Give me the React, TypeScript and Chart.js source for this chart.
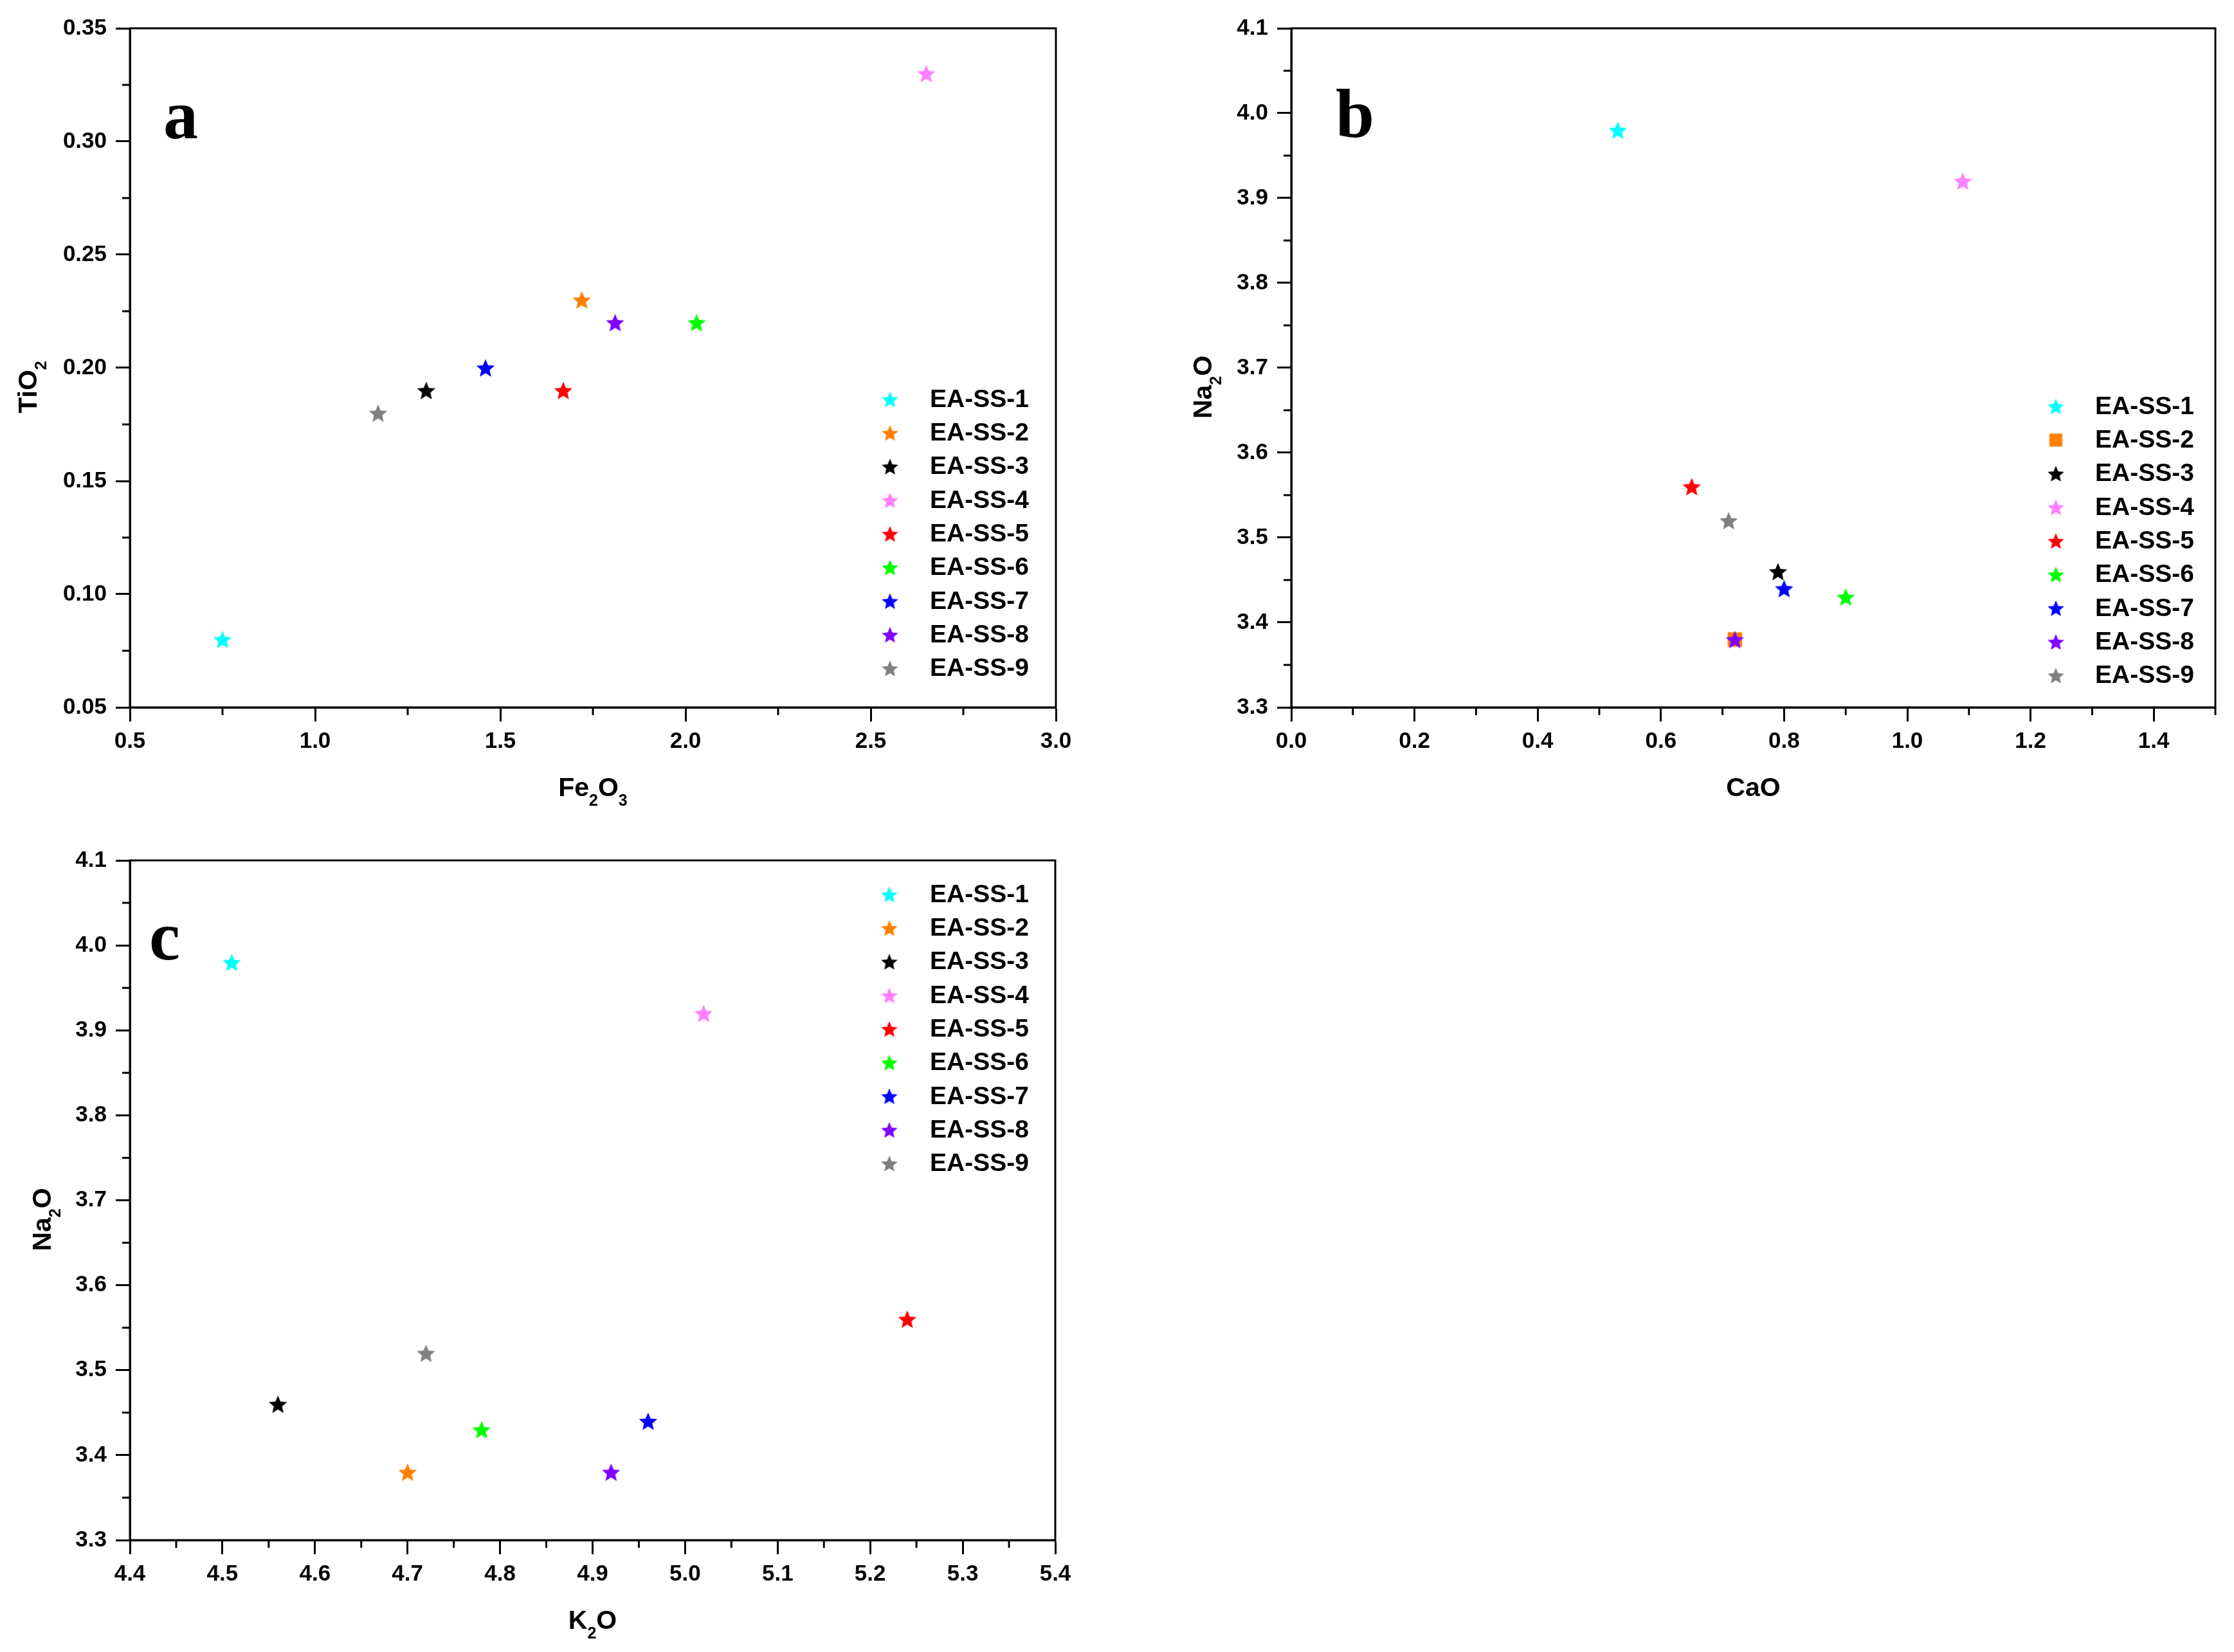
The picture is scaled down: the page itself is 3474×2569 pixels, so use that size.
import { useEffect, useRef } from "react"
import { Chart, registerables } from "chart.js"

Chart.register(...registerables)

// samples and their colours
const samples = ["EA-SS-1", "EA-SS-2", "EA-SS-3", "EA-SS-4", "EA-SS-5", "EA-SS-6", "EA-SS-7", "EA-SS-8", "EA-SS-9"]
const colors = ["#00FFFF", "#FF8000", "#000000", "#FF80FF", "#FF0000", "#00FF00", "#0000FF", "#8000FF", "#808080"]

// oxide contents (wt%)
const fe2o3 = [0.75, 1.72, 1.3, 2.65, 1.67, 2.03, 1.46, 1.81, 1.17]
const tio2 = [0.08, 0.23, 0.19, 0.33, 0.19, 0.22, 0.2, 0.22, 0.18]
const cao = [0.53, 0.72, 0.79, 1.09, 0.65, 0.9, 0.8, 0.72, 0.71]
const na2o = [3.98, 3.38, 3.46, 3.92, 3.56, 3.43, 3.44, 3.38, 3.52]
const k2o = [4.51, 4.7, 4.56, 5.02, 5.24, 4.78, 4.96, 4.92, 4.72]

// major tick values
const ticksFe2O3 = [0.5, 1.0, 1.5, 2.0, 2.5, 3.0]
const ticksTiO2 = [0.05, 0.1, 0.15, 0.2, 0.25, 0.3, 0.35]
const ticksCaO = [0.0, 0.2, 0.4, 0.6, 0.8, 1.0, 1.2, 1.4]
const ticksNa2O = [3.3, 3.4, 3.5, 3.6, 3.7, 3.8, 3.9, 4.0, 4.1]
const ticksK2O = [4.4, 4.5, 4.6, 4.7, 4.8, 4.9, 5.0, 5.1, 5.2, 5.3, 5.4]

type Seg = { t: string; sub?: boolean }

type Panel = {
  id: string
  letter: string
  xs: number[]
  ys: number[]
  xTicks: number[]
  yTicks: number[]
  xMax: number
  xDec: number
  yDec: number
  xTitle: Seg[]
  yTitle: Seg[]
  squareIdx: number
  box: { left: number; top: number; w: number; h: number }
  plot: { left: number; top: number; right: number; bottom: number }
  legend: { markX: number; textX: number; y0: number }
  letterPos: { x: number; y: number }
  yTitleX: number
}

const panels: Panel[] = [
  {
    id: "a",
    letter: "a",
    xs: fe2o3,
    ys: tio2,
    xTicks: ticksFe2O3,
    yTicks: ticksTiO2,
    xMax: 3.0,
    xDec: 1,
    yDec: 2,
    xTitle: [{ t: "Fe" }, { t: "2", sub: true }, { t: "O" }, { t: "3", sub: true }],
    yTitle: [{ t: "TiO" }, { t: "2", sub: true }],
    squareIdx: -1,
    box: { left: 0, top: 0, w: 1737, h: 1285 },
    plot: { left: 202, top: 44, right: 1642, bottom: 1100 },
    legend: { markX: 1384, textX: 1446, y0: 621 },
    letterPos: { x: 254, y: 215 },
    yTitleX: 57,
  },
  {
    id: "b",
    letter: "b",
    xs: cao,
    ys: na2o,
    xTicks: ticksCaO,
    yTicks: ticksNa2O,
    xMax: 1.5,
    xDec: 1,
    yDec: 1,
    xTitle: [{ t: "CaO" }],
    yTitle: [{ t: "Na" }, { t: "2", sub: true }, { t: "O" }],
    squareIdx: 1,
    box: { left: 1737, top: 0, w: 1737, h: 1285 },
    plot: { left: 271, top: 44, right: 1708, bottom: 1100 },
    legend: { markX: 1460, textX: 1521, y0: 632 },
    letterPos: { x: 340, y: 213 },
    yTitleX: 147,
  },
  {
    id: "c",
    letter: "c",
    xs: k2o,
    ys: na2o,
    xTicks: ticksK2O,
    yTicks: ticksNa2O,
    xMax: 5.4,
    xDec: 1,
    yDec: 1,
    xTitle: [{ t: "K" }, { t: "2", sub: true }, { t: "O" }],
    yTitle: [{ t: "Na" }, { t: "2", sub: true }, { t: "O" }],
    squareIdx: -1,
    box: { left: 0, top: 1285, w: 1737, h: 1284 },
    plot: { left: 202, top: 53, right: 1641, bottom: 1110 },
    legend: { markX: 1383, textX: 1446, y0: 106 },
    letterPos: { x: 232, y: 207 },
    yTitleX: 79,
  },
]

const SANS = "'Liberation Sans', Arial, sans-serif"

function makeMarker(color: string, shape: "star" | "square", r: number) {
  const size = Math.ceil(r * 2 + 2)
  const c = document.createElement("canvas")
  c.width = size
  c.height = size
  const ctx = c.getContext("2d")!
  ctx.fillStyle = color
  const cx = size / 2
  const cy = size / 2
  if (shape === "square") {
    ctx.fillRect(cx - r * 0.75, cy - r * 0.75, r * 1.5, r * 1.5)
  } else {
    ctx.beginPath()
    for (let k = 0; k < 10; k++) {
      const a = -Math.PI / 2 + (k * Math.PI) / 5
      const rr = k % 2 === 0 ? r : r * 0.45
      const px = cx + rr * Math.cos(a)
      const py = cy + r * 0.1 + rr * Math.sin(a)
      if (k === 0) ctx.moveTo(px, py)
      else ctx.lineTo(px, py)
    }
    ctx.closePath()
    ctx.fill()
  }
  return c
}

function drawRich(ctx: CanvasRenderingContext2D, segs: Seg[], cx: number, cy: number, rotate: boolean) {
  const main = `bold 41px ${SANS}`
  const sub = `bold 25px ${SANS}`
  ctx.save()
  ctx.translate(cx, cy)
  if (rotate) ctx.rotate(-Math.PI / 2)
  ctx.fillStyle = "#000"
  ctx.textBaseline = "alphabetic"
  ctx.textAlign = "left"
  const widths = segs.map((s) => {
    ctx.font = s.sub ? sub : main
    return ctx.measureText(s.t).width
  })
  let x = -widths.reduce((a, b) => a + b, 0) / 2
  segs.forEach((s, i) => {
    ctx.font = s.sub ? sub : main
    ctx.fillText(s.t, x, s.sub ? 15 : 0)
    x += widths[i]
  })
  ctx.restore()
}

function PanelChart({ panel }: { panel: Panel }) {
  const chartRef = useRef<HTMLCanvasElement>(null)
  const chartInstance = useRef<Chart | null>(null)

  useEffect(() => {
    if (!chartRef.current) return
    if (chartInstance.current) chartInstance.current.destroy()
    const ctx = chartRef.current.getContext("2d")
    if (!ctx) return

    const { box, plot } = panel
    const legendMarks = colors.map((col, i) =>
      makeMarker(col, i === panel.squareIdx ? "square" : "star", 13.5)
    )

    const frame = {
      id: "frame-" + panel.id,
      afterDraw(chart: any) {
        const c = chart.ctx as CanvasRenderingContext2D
        const area = chart.chartArea
        const sx = chart.scales.x
        const sy = chart.scales.y
        c.save()
        c.strokeStyle = "#000"
        c.lineWidth = 3
        c.strokeRect(area.left, area.top, area.right - area.left, area.bottom - area.top)

        // minor ticks half-way between the majors
        c.beginPath()
        const xStep = panel.xTicks[1] - panel.xTicks[0]
        for (let v = panel.xTicks[0] + xStep / 2; v <= panel.xMax + 1e-9; v += xStep) {
          const px = sx.getPixelForValue(v)
          c.moveTo(px, area.bottom)
          c.lineTo(px, area.bottom + 12)
        }
        const yStep = panel.yTicks[1] - panel.yTicks[0]
        const yMax = panel.yTicks[panel.yTicks.length - 1]
        for (let v = panel.yTicks[0] + yStep / 2; v <= yMax + 1e-9; v += yStep) {
          const py = sy.getPixelForValue(v)
          c.moveTo(area.left, py)
          c.lineTo(area.left - 12, py)
        }
        c.stroke()

        // axis titles
        drawRich(c, panel.xTitle, (area.left + area.right) / 2, area.bottom + 138, false)
        drawRich(c, panel.yTitle, panel.yTitleX, (area.top + area.bottom) / 2 + 30, true)

        // panel letter
        c.fillStyle = "#000"
        c.font = `bold 108px 'Liberation Serif', 'Times New Roman', serif`
        c.textAlign = "left"
        c.textBaseline = "alphabetic"
        c.fillText(panel.letter, panel.letterPos.x, panel.letterPos.y)

        // legend
        c.font = `bold 39px ${SANS}`
        c.textBaseline = "middle"
        samples.forEach((name, i) => {
          const y = panel.legend.y0 + i * 52.3
          const m = legendMarks[i]
          c.drawImage(m, panel.legend.markX - m.width / 2, y - m.height / 2)
          c.fillText(name, panel.legend.textX, y + 1)
        })
        c.restore()
      },
    }

    const tickFont = { family: SANS, weight: "bold" as const, size: 35 }

    chartInstance.current = new Chart(ctx, {
      type: "scatter",
      data: {
        datasets: samples.map((name, i) => ({
          label: name,
          data: [{ x: panel.xs[i], y: panel.ys[i] }],
          pointStyle: makeMarker(colors[i], i === panel.squareIdx ? "square" : "star", 15),
          backgroundColor: colors[i],
          borderColor: colors[i],
          // later samples are painted on top, as in the original plot
          order: samples.length - i,
        })),
      },
      options: {
        animation: false,
        responsive: false,
        devicePixelRatio: 1,
        layout: { padding: { left: 0, top: plot.top, right: box.w - plot.right, bottom: 0 } },
        plugins: { legend: { display: false }, tooltip: { enabled: false } },
        scales: {
          x: {
            type: "linear",
            min: panel.xTicks[0],
            max: panel.xMax,
            afterFit: (s: any) => {
              s.height = box.h - plot.bottom
            },
            afterBuildTicks: (s: any) => {
              s.ticks = panel.xTicks.map((v) => ({ value: v }))
            },
            ticks: {
              callback: (v: any) => Number(v).toFixed(panel.xDec),
              font: tickFont,
              color: "#000",
              padding: 10,
              maxRotation: 0,
              autoSkip: false,
            },
            grid: { drawOnChartArea: false, tickLength: 22, tickWidth: 3, tickColor: "#000" },
            border: { width: 3, color: "#000" },
          },
          y: {
            type: "linear",
            min: panel.yTicks[0],
            max: panel.yTicks[panel.yTicks.length - 1],
            afterFit: (s: any) => {
              s.width = plot.left
            },
            afterBuildTicks: (s: any) => {
              s.ticks = panel.yTicks.map((v) => ({ value: v }))
            },
            ticks: {
              callback: (v: any) => Number(v).toFixed(panel.yDec),
              font: tickFont,
              color: "#000",
              padding: 14,
              autoSkip: false,
            },
            grid: { drawOnChartArea: false, tickLength: 22, tickWidth: 3, tickColor: "#000" },
            border: { width: 3, color: "#000" },
          },
        },
      },
      plugins: [frame],
    })

    return () => {
      if (chartInstance.current) {
        chartInstance.current.destroy()
        chartInstance.current = null
      }
    }
  }, [panel])

  const { box } = panel
  return (
    <canvas
      ref={chartRef}
      width={box.w}
      height={box.h}
      style={{ position: "absolute", left: box.left, top: box.top, width: box.w, height: box.h }}
    />
  )
}

export default function App() {
  return (
    <div
      style={{
        position: "absolute",
        left: 0,
        top: 0,
        width: 3474,
        height: 2569,
        background: "#fff",
        overflow: "hidden",
      }}
    >
      {panels.map((p) => (
        <PanelChart key={p.id} panel={p} />
      ))}
    </div>
  )
}
